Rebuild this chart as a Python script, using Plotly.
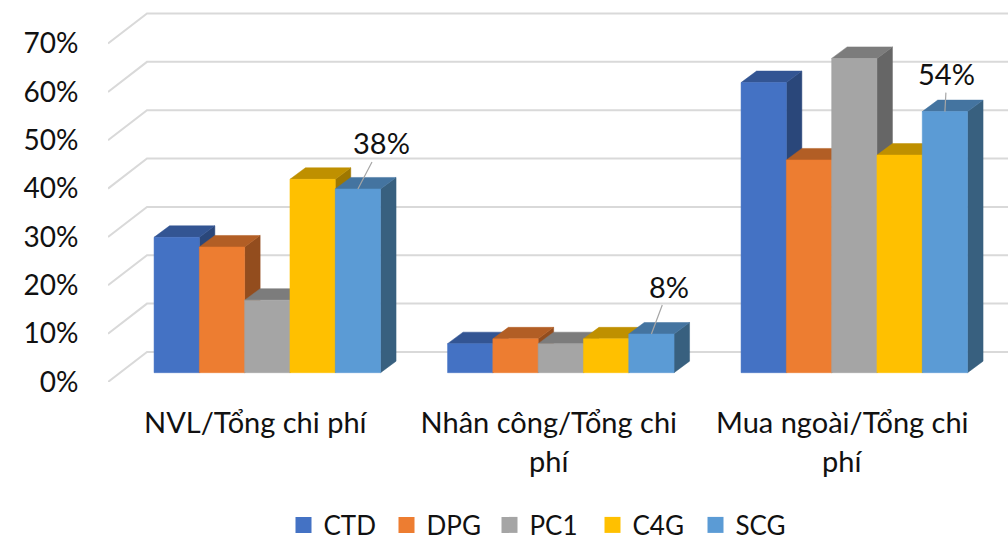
import plotly.graph_objects as go

# ---- data ----
categories = ["NVL/Tổng chi phí", "Nhân công/Tổng chi<br>phí", "Mua ngoài/Tổng chi<br>phí"]
series_names = ["CTD", "DPG", "PC1", "C4G", "SCG"]
ctd = [28, 6, 60]
dpg = [26, 7, 44]
pc1 = [15, 6, 65]
c4g = [40, 7, 45]
scg = [38, 8, 54]
series_values = [ctd, dpg, pc1, c4g, scg]
y_ticks = [0, 10, 20, 30, 40, 50, 60, 70]
# labelled points: (series index, category index, leader dx px, leader dy px)
labelled = [(4, 0, 24, -46), (4, 1, 18, -48), (4, 2, 2, -38)]

# ---- style ----
front = ["#4472C4", "#ED7D31", "#A5A5A5", "#FFC000", "#5B9BD5"]
top = ["#335593", "#B25E25", "#7C7C7C", "#BF9000", "#4474A0"]
side = ["#2A477A", "#934D1E", "#666666", "#9E7700", "#38607F"]
FONT = "Lato"
FS = 29
TICK_FS = 28
LEGEND_FS = 26
TXT = "#111111"

# ---- geometry (pseudo-3D projection in axis units) ----
PX_X = 293.5          # px per category
PX_Y = 4.83           # px per percent
W, H = 1008, 540
ML = 108
BOTTOM = 381.6
X0 = -(255.3 - ML) / PX_X
X1 = (W - 255.3) / PX_X
Y1 = BOTTOM / PX_Y
WALL_DX, WALL_DY = 39 / PX_X, 30 / PX_Y
BAR_DX, BAR_DY = 15.5 / PX_X, 11.5 / PX_Y
SHIFT_X, SHIFT_Y = 12 / PX_X, 9.3 / PX_Y
BW = 45.3 / PX_X

fig = go.Figure()

# walls' gridlines
gx, gy = [], []
for t in y_ticks:
    gx += [X0, X0 + WALL_DX, X1 + 0.01, None]
    gy += [t, t + WALL_DY, t + WALL_DY, None]
fig.add_trace(go.Scatter(x=gx, y=gy, mode="lines", line=dict(color="#D9D9D9", width=2),
                         showlegend=False, hoverinfo="skip"))


def poly(xs, ys, color):
    fig.add_trace(go.Scatter(x=xs, y=ys, mode="lines", fill="toself", fillcolor=color,
                             line=dict(color=color, width=0.5), showlegend=False, hoverinfo="skip"))


def bar_left(s, c):
    return c + SHIFT_X + (s - 2.5) * BW


# bars, left to right so that each front face covers its neighbour's side
for s, vals in enumerate(series_values):
    sx, sy, tx, ty, fx, fy = [], [], [], [], [], []
    for c, v in enumerate(vals):
        l = bar_left(s, c)
        r = l + BW
        b = SHIFT_Y
        t = v + SHIFT_Y
        sx += [r, r + BAR_DX, r + BAR_DX, r, r, None]
        sy += [b, b + BAR_DY, t + BAR_DY, t, b, None]
        tx += [l, l + BAR_DX, r + BAR_DX, r, l, None]
        ty += [t, t + BAR_DY, t + BAR_DY, t, t, None]
        fx += [l, r, r, l, l, None]
        fy += [b, b, t, t, b, None]
    poly(sx, sy, side[s])
    poly(tx, ty, top[s])
    poly(fx, fy, front[s])

# legend entries
for s, name in enumerate(series_names):
    fig.add_trace(go.Scatter(x=[None], y=[None], mode="markers", name=name,
                             marker=dict(symbol="square", size=16, color=front[s])))

# data labels with leader lines
annotations = []
for s, c, dx, dy in labelled:
    v = series_values[s][c]
    annotations.append(dict(x=bar_left(s, c) + BW / 2, y=v + SHIFT_Y, xref="x", yref="y",
                            text=f"{v}%", showarrow=True, arrowhead=0, arrowwidth=1.2,
                            arrowcolor="#A6A6A6", ax=dx, ay=dy, standoff=0,
                            font=dict(family=FONT, size=FS, color=TXT)))

# category labels: first line on the axis, second line below it
first_lines = [c.split("<br>")[0] for c in categories]
for c, label in enumerate(categories):
    parts = label.split("<br>")
    if len(parts) > 1:
        annotations.append(dict(x=c, y=0, xref="x", yref="paper", text=parts[1], showarrow=False,
                                yanchor="middle", yshift=-78.5,
                                font=dict(family=FONT, size=FS, color=TXT)))

fig.update_layout(
    width=W, height=H, autosize=False,
    margin=dict(l=ML, r=0, t=0, b=H - BOTTOM, pad=0),
    paper_bgcolor="white", plot_bgcolor="white",
    font=dict(family=FONT, size=FS, color=TXT),
    showlegend=True,
    legend=dict(orientation="h", xref="container", yref="container", x=541 / W,
                y=1 - 525 / H, xanchor="center", yanchor="middle",
                font=dict(family=FONT, size=LEGEND_FS, color=TXT), entrywidth=58,
                entrywidthmode="pixels", itemsizing="trace", bgcolor="rgba(0,0,0,0)"),
    annotations=annotations,
    xaxis=dict(range=[X0, X1], tickmode="array", tickvals=[0, 1, 2], ticktext=first_lines,
               showgrid=False, zeroline=False, showline=False, ticks="outside", ticklen=15,
               tickcolor="rgba(0,0,0,0)", tickfont=dict(family=FONT, size=FS, color=TXT)),
    yaxis=dict(range=[0, Y1], tickmode="array", tickvals=y_ticks, ticktext=[f"{t}%" for t in y_ticks],
               showgrid=False, zeroline=False, showline=False, ticks="outside", ticklen=23,
               tickcolor="rgba(0,0,0,0)", tickfont=dict(family=FONT, size=TICK_FS, color=TXT)),
)
fig.write_html("out.html", config=dict(displayModeBar=False),
               post_script="document.body.style.margin='0';document.documentElement.style.overflow='hidden';")
